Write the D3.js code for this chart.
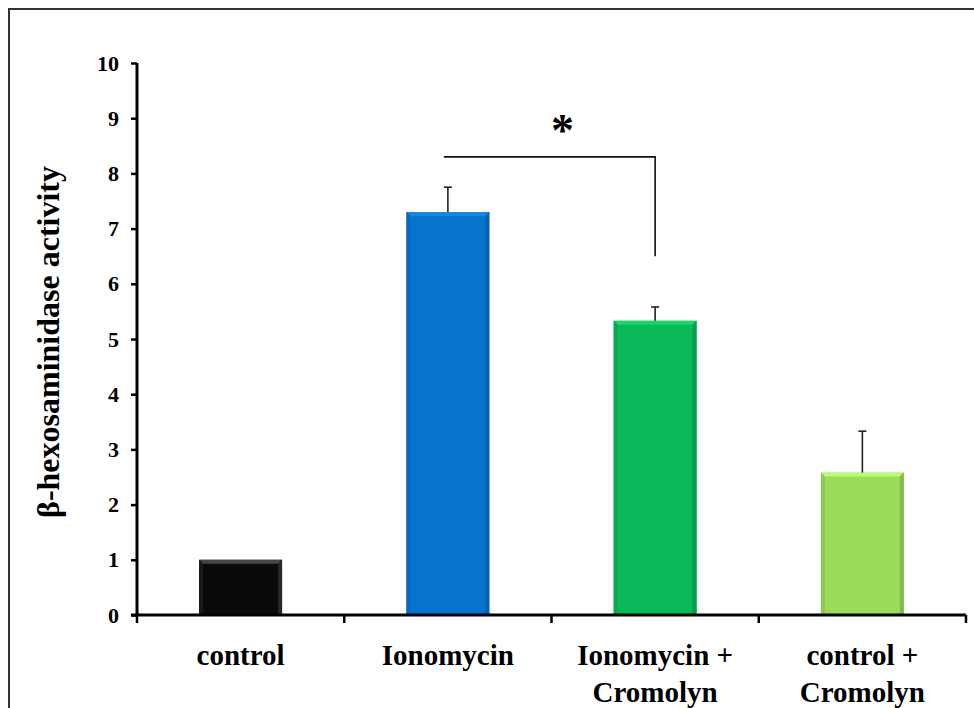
<!DOCTYPE html>
<html>
<head>
<meta charset="utf-8">
<script src="https://cdn.jsdelivr.net/npm/d3@7"></script>
<style>
  html, body { margin: 0; padding: 0; background: #fff; }
  svg { display: block; }
  text { font-family: "Liberation Serif", "Times New Roman", Times, serif; font-weight: bold; fill: #000; }
</style>
</head>
<body>
<svg id="chart" width="974" height="708"></svg>
<script>
// ---- data ----
const categories = ["control", "Ionomycin", "Ionomycin +\nCromolyn", "control +\nCromolyn"];
const values = [1.0, 7.3, 5.33, 2.58];
const errors = [0, 0.45, 0.25, 0.75];
const barColors = ["#0a0a0a", "#0873cc", "#0bb857", "#9bdc5b"];
const yTicks = [0, 1, 2, 3, 4, 5, 6, 7, 8, 9, 10];
const yLabel = "β-hexosaminidase activity";
const bracket = { from: 1, to: 2, level: 8.3, drop: 6.5, starLevel: 8.9, label: "*" };

// ---- layout ----
const FONT = '"Liberation Serif", "Times New Roman", Times, serif';
const svg = d3.select("#chart");
const W = 974, H = 708;
const margin = { left: 137, right: 8, top: 63, bottom: 93 };
const x0 = margin.left, x1 = W - margin.right;
const yTop = margin.top, yBot = H - margin.bottom;

// frame (left + top only visible)
svg.append("path")
  .attr("d", `M9,${H} V9 H${W}`)
  .attr("fill", "none").attr("stroke", "#333").attr("stroke-width", 2);

const x = d3.scaleBand().domain(d3.range(categories.length))
  .range([x0, x1]).paddingInner(0.6).paddingOuter(0.3);
const y = d3.scaleLinear().domain([0, 10]).range([yBot, yTop]);

// bars with bevel
const bev = 4;
const barG = svg.append("g");
values.forEach((v, i) => {
  const bx = x(i), bw = x.bandwidth(), by = y(v), bh = y(0) - y(v);
  const c = d3.color(barColors[i]);
  const g = barG.append("g");
  g.append("rect").attr("x", bx).attr("y", by).attr("width", bw).attr("height", bh)
    .attr("fill", c.formatHex());
  const light = (i === 0) ? d3.rgb(70,70,70) : c.brighter(0.5);
  const dark = (i === 0) ? d3.rgb(25,25,25) : c.darker(0.25);
  const darker = (i === 0) ? d3.rgb(40,40,40) : c.darker(0.45);
  g.append("polygon").attr("points",
    [[bx, by], [bx + bw, by], [bx + bw - bev, by + bev], [bx + bev, by + bev]].join(" "))
    .attr("fill", light);
  g.append("polygon").attr("points",
    [[bx, by], [bx + bev, by + bev], [bx + bev, by + bh], [bx, by + bh]].join(" "))
    .attr("fill", dark);
  g.append("polygon").attr("points",
    [[bx + bw, by], [bx + bw - bev, by + bev], [bx + bw - bev, by + bh], [bx + bw, by + bh]].join(" "))
    .attr("fill", darker);
});

// error bars
const errG = svg.append("g").attr("stroke", "#222").attr("stroke-width", 1.6);
values.forEach((v, i) => {
  if (!errors[i]) return;
  const cx = x(i) + x.bandwidth() / 2;
  errG.append("line").attr("x1", cx).attr("x2", cx).attr("y1", y(v)).attr("y2", y(v + errors[i]));
  errG.append("line").attr("x1", cx - 4).attr("x2", cx + 4).attr("y1", y(v + errors[i])).attr("y2", y(v + errors[i]));
});

// y axis
const yAxis = d3.axisLeft(y).tickValues(yTicks).tickSize(6).tickPadding(12).tickFormat(d3.format("d"));
const yg = svg.append("g").attr("transform", `translate(${x0},0)`).call(yAxis);
yg.attr("font-family", FONT);
yg.select(".domain").attr("stroke", "#000").attr("stroke-width", 3).attr("d", `M0,${yTop}V${yBot}`);
yg.selectAll(".tick line").attr("stroke", "#000").attr("stroke-width", 2.5);
yg.selectAll(".tick text").style("font-family", FONT)
  .style("font-weight", "bold").style("font-size", "22px").attr("fill", "#000");

// x axis line with boundary ticks
const step = x.step();
const boundaries = d3.range(categories.length + 1).map(k => x0 + k * step);
svg.append("line").attr("x1", x0 - 6).attr("x2", x1).attr("y1", yBot).attr("y2", yBot)
  .attr("stroke", "#000").attr("stroke-width", 3);
svg.append("g").selectAll("line").data(boundaries).join("line")
  .attr("x1", d => d).attr("x2", d => d).attr("y1", yBot).attr("y2", yBot + 8)
  .attr("stroke", "#000").attr("stroke-width", 2.5);

// category labels
categories.forEach((c, i) => {
  const cx = x(i) + x.bandwidth() / 2;
  const lines = c.split("\n");
  const t = svg.append("text").attr("text-anchor", "middle")
    .style("font-family", FONT).style("font-size", "29px");
  lines.forEach((ln, k) => {
    t.append("tspan").attr("x", cx).attr("y", 665 + k * 37).text(ln);
  });
});

// y label
svg.append("text")
  .attr("transform", `translate(59,342) rotate(-90)`)
  .attr("text-anchor", "middle")
  .style("font-family", FONT)
  .style("font-size", "32px")
  .text(yLabel);

// significance bracket
const bxFrom = x(bracket.from) + x.bandwidth() / 2 - 4;
const bxTo = x(bracket.to) + x.bandwidth() / 2;
svg.append("path")
  .attr("d", `M${bxFrom},${y(bracket.level)} H${bxTo} V${y(bracket.drop)}`)
  .attr("fill", "none").attr("stroke", "#111").attr("stroke-width", 1.6);
svg.append("text")
  .attr("x", (bxFrom + bxTo) / 2 + 13)
  .attr("y", y(bracket.starLevel) + 22)
  .attr("text-anchor", "middle")
  .style("font-family", FONT)
  .style("font-size", "46px")
  .text(bracket.label);
</script>
</body>
</html>
